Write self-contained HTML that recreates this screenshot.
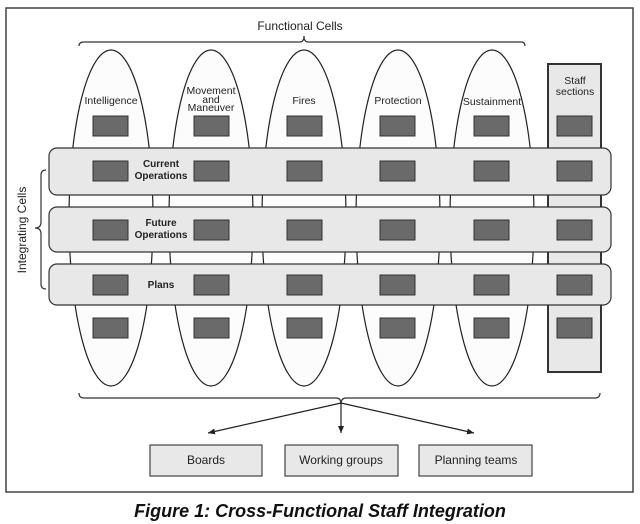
<!DOCTYPE html>
<html><head><meta charset="utf-8"><style>
html,body{margin:0;padding:0;background:#fff;}
svg{display:block;font-family:"Liberation Sans",Arial,sans-serif;}
</style></head><body>
<svg width="640" height="524" viewBox="0 0 640 524" xmlns="http://www.w3.org/2000/svg">
<defs><marker id="ah" markerWidth="8" markerHeight="8" refX="7" refY="4" orient="auto" markerUnits="userSpaceOnUse"><path d="M0,1 L7,4 L0,7 Z" fill="#222"/></marker></defs>
<rect x="6" y="8" width="627" height="484" fill="#fff" stroke="#444" stroke-width="1.5"/>
<text x="300" y="30" font-size="12" text-anchor="middle" fill="#222">Functional Cells</text>
<path d="M79,46 Q79,42 84,42 L300,42 Q304,42 304,36 Q304,42 308,42 L521,42 Q525,42 525,46" fill="none" stroke="#333" stroke-width="1.2"/>
<g fill="#fcfcfc" stroke="#222" stroke-width="1.2">
<ellipse cx="111" cy="218" rx="42" ry="168"/>
<ellipse cx="211" cy="218" rx="42" ry="168"/>
<ellipse cx="304" cy="218" rx="42" ry="168"/>
<ellipse cx="398" cy="218" rx="42" ry="168"/>
<ellipse cx="492" cy="218" rx="42" ry="168"/>
</g>
<rect x="548" y="64" width="53" height="308" fill="#e8e8e8" stroke="#333" stroke-width="2"/>
<g font-size="10.5" fill="#222" text-anchor="middle">
<text x="111" y="104">Intelligence</text>
<text x="211" y="94">Movement</text><text x="211" y="103">and</text><text x="211" y="111">Maneuver</text>
<text x="304" y="104">Fires</text>
<text x="398" y="104">Protection</text>
<text x="492" y="105">Sustainment</text>
<text x="575" y="84">Staff</text><text x="575" y="95">sections</text>
</g>
<g fill="#e8e8e8" stroke="#333" stroke-width="1.2">
<rect x="49" y="148" width="562" height="47" rx="8"/>
<rect x="49" y="207" width="562" height="45" rx="8"/>
<rect x="49" y="264" width="562" height="41" rx="8"/>
</g>
<g font-size="10" font-weight="bold" fill="#222" text-anchor="middle">
<text x="161" y="167">Current</text><text x="161" y="179">Operations</text>
<text x="161" y="226">Future</text><text x="161" y="238">Operations</text>
<text x="161" y="288">Plans</text>
</g>
<g fill="#6a6a6a" stroke="#333" stroke-width="1">
<g id="col">
<rect x="93" y="116" width="35" height="20"/>
<rect x="93" y="161" width="35" height="20"/>
<rect x="93" y="220" width="35" height="20"/>
<rect x="93" y="275" width="35" height="20"/>
<rect x="93" y="318" width="35" height="20"/>
</g>
<use href="#col" x="101"/>
<use href="#col" x="194"/>
<use href="#col" x="287"/>
<use href="#col" x="381"/>
<use href="#col" x="464"/>
</g>
<path d="M46,170 Q41,170 41,175 L41,222 Q41,228 35,228 Q41,228 41,234 L41,284 Q41,289 46,289" fill="none" stroke="#333" stroke-width="1.2"/>
<text transform="translate(26,230) rotate(-90)" font-size="12" text-anchor="middle" fill="#222">Integrating Cells</text>
<path d="M79,393 Q79,398 84,398 L336,398 Q341,398 341,404 Q341,398 346,398 L595,398 Q600,398 600,393" fill="none" stroke="#333" stroke-width="1.2"/>
<g stroke="#222" stroke-width="1.2" marker-end="url(#ah)">
<line x1="341" y1="403" x2="208" y2="433"/>
<line x1="341" y1="403" x2="341" y2="433"/>
<line x1="341" y1="403" x2="474" y2="433"/>
</g>
<g fill="#e8e8e8" stroke="#444" stroke-width="1.2">
<rect x="150" y="445" width="112" height="31"/>
<rect x="285" y="445" width="113" height="31"/>
<rect x="419" y="445" width="113" height="31"/>
</g>
<g font-size="12" fill="#222" text-anchor="middle">
<text x="206" y="464">Boards</text>
<text x="341" y="464">Working groups</text>
<text x="476" y="464">Planning teams</text>
</g>
<text x="320" y="517" font-size="18" font-weight="bold" font-style="italic" text-anchor="middle" fill="#111">Figure 1: Cross-Functional Staff Integration</text>
</svg>
</body></html>
